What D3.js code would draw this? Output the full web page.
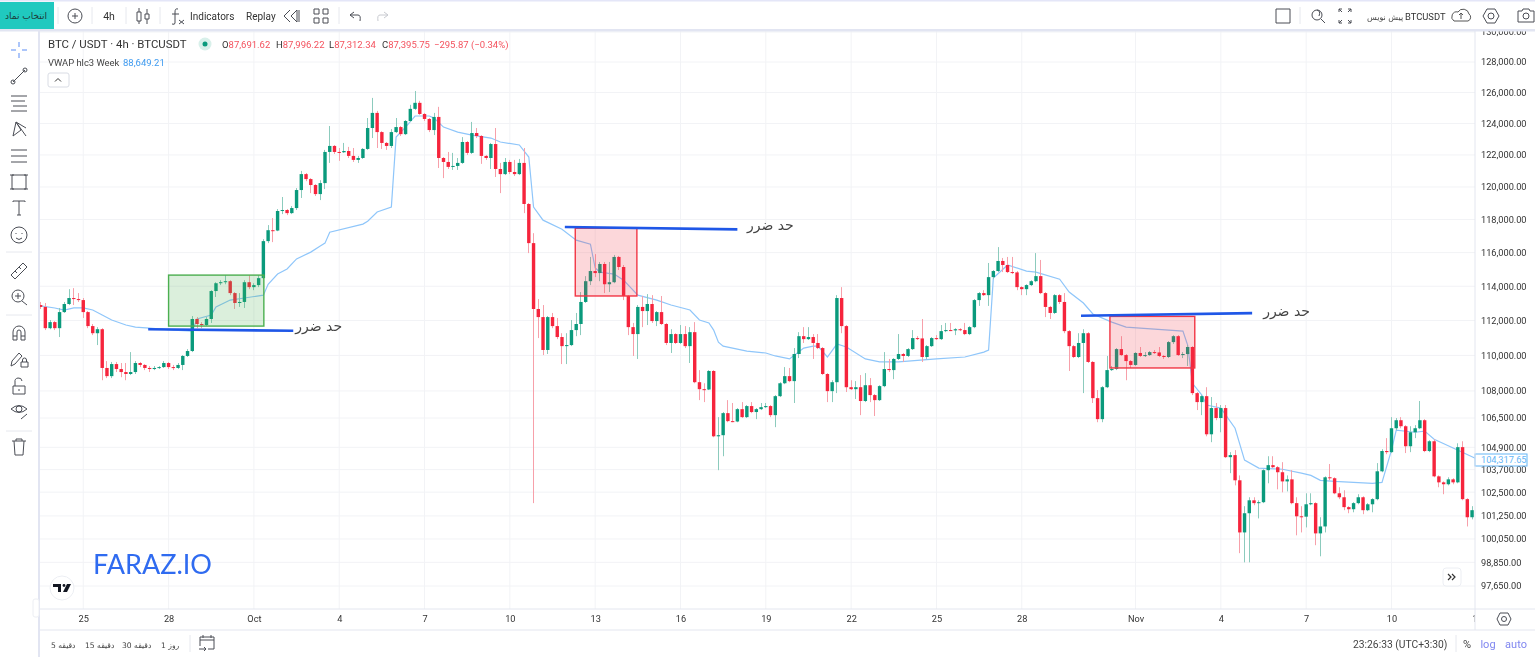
<!DOCTYPE html>
<html>
<head>
<meta charset="utf-8">
<style>
  html, body { margin: 0; padding: 0; background: #fff; overflow: hidden; }
  svg { display: block; filter: blur(0.4px); }
  text { font-family: Roboto, "DejaVu Sans", sans-serif; fill: #333; }
  .fa { font-family: "DejaVu Sans", sans-serif; }
  .axis path, .axis line { display: none; }
  .axis text { font-family: Roboto, sans-serif; font-size: 9.2px; fill: #333; }
</style>
</head>
<body>
<div id="chart"></div>
<script src="https://cdn.jsdelivr.net/npm/d3@7"></script>
<script>
// 4h candles, first one is Sep 23. Open of a candle = close of the one before
const firstOpen = 112900;
const closes = [
  112790,111560,111910,111560,112490,112960,113310,113250,113190,112490,111680,111270,111500,109290,108830,109510,109230,109060,108950,109060,
  109570,109460,109290,109230,109290,109340,109570,109340,109290,109460,109970,110250,112090,111800,111740,112090,113720,114180,114240,114300,
  113600,113020,113080,114240,113950,114070,114480,116690,117350,117330,118520,118580,118390,118700,119810,120800,120490,120120,119560,120240,
  122190,122570,122190,122170,122250,121940,121690,121810,122380,123710,124680,123450,122760,122570,123450,123770,123320,124160,124940,125330,
  124610,124290,123580,124420,121810,121560,121250,121310,121500,122820,122130,123390,123200,121940,121810,122690,121120,120800,121560,120930,
  120800,121500,118950,116570,112670,112200,110310,112200,111680,111050,110530,110590,111450,111800,113080,114300,114900,114780,115320,114120,
  114240,115740,115140,113430,111620,111220,112790,112550,112960,111970,112490,111800,110710,111220,110710,111220,110530,111330,108490,108100,
  108080,109120,105500,105560,106770,106330,106310,106990,106550,107160,106830,106990,107100,107160,106660,107710,108430,108830,108550,110080,
  111100,110930,111050,110710,110420,108950,107990,108490,113310,111680,108210,108100,108210,107440,108320,107770,107490,108270,109230,109170,
  109800,110080,109970,110360,110990,110970,109910,110530,110990,110930,111390,111450,111430,111500,111450,111220,111620,113190,113600,113480,
  114540,114900,115500,115260,114840,114820,113950,113830,114070,114300,114600,113600,112790,112440,113480,113080,111390,110530,109910,110710,
  111270,109630,107600,106440,108210,109170,109230,110360,110020,109680,109460,110140,109970,110020,110190,110170,109970,109910,110760,111100,
  110020,110080,110480,107880,107380,107710,105610,107050,106500,107050,104370,104480,103130,100390,101390,102070,101920,101970,103670,103940,
  103830,103560,103070,103180,101920,101230,101210,101860,101920,100340,100700,103290,103240,102440,102230,101710,101600,101920,102230,101550,
  101860,102130,103610,104700,104640,105940,106380,106050,104960,105720,105940,106380,104700,105230,103340,103020,102920,103180,103020,104910,
  102130,101180,101550,102020
];
const highs = [
  113080,113020,112030,111970,112730,113080,113830,113890,113600,113310,112550,111800,111620,111560,109680,109630,109630,109570,109570,110190,
  109680,109630,109510,109400,109400,109400,109680,109630,109460,109570,110020,110360,112260,112200,111910,112200,113770,114240,114360,114660,
  114360,113660,113600,114360,114660,114180,114660,116810,117660,118090,118640,119380,118640,118820,119930,121000,120870,120550,120180,120420,
  122320,123840,122630,122440,122760,122510,122440,121940,122440,124350,125650,124810,123510,122820,123640,124350,123840,124220,125200,126100,
  125460,124680,124350,124680,125070,121870,122190,122130,121810,123130,122880,124100,123710,123260,122000,122760,123710,121500,121810,121690,
  121690,121750,122440,119010,117170,113250,112900,112260,112440,112150,111270,111270,112030,112440,113660,114600,115740,115910,115440,115440,
  115440,115860,115800,115260,113480,111860,112900,113430,113540,113480,112550,113430,111860,111500,111270,111740,111680,111620,111910,109170,
  108430,109170,109170,106550,106830,107490,107330,107050,107380,107220,107380,107050,107330,107330,107220,107770,108490,109340,109290,110420,
  111330,111620,111620,111220,111220,110480,109000,108600,113480,113950,111740,108600,108550,108890,109000,108720,107830,108320,110190,109800,
  109850,111220,110140,110420,111450,111100,112090,110590,111050,111160,111740,111860,111860,111560,111560,111860,111680,113250,113660,113770,
  115380,114960,116330,115680,115740,115740,114900,114010,114120,114360,115970,115560,113660,112850,113540,113540,113600,111450,110590,111270,
  111500,111330,109680,108050,108270,109970,109400,110420,111100,110080,109740,110190,110480,110190,110250,110310,110480,110020,110820,111160,
  111160,110190,110590,110530,107940,107770,108210,107660,107330,107220,107220,104640,104750,103390,101760,102230,102230,102070,103720,104420,
  104420,103890,104100,103390,103670,102230,101760,102440,102440,101970,101180,103340,104000,103290,102760,102600,101760,101970,102390,102280,
  101920,102180,104050,104800,105400,106550,106500,106550,106110,106050,106110,107440,106440,105290,105340,103390,103070,103290,103240,105120,
  105230,102180,101760,102490
];
const lows = [
  112670,111450,111500,111450,111050,112440,112900,112900,113080,112150,111560,111160,110590,108600,108720,108720,109060,108770,108600,108890,
  108950,109340,109170,109060,109170,109230,109290,109230,109170,109230,109170,109910,110190,111560,111560,111680,111860,113370,114070,114120,
  113480,112670,112790,112730,113830,113770,113950,114420,116570,116630,117290,118330,118270,118330,118580,119320,120360,119620,119440,119190,
  119870,121500,122060,121630,122130,121810,121560,121500,121750,122320,123070,122440,122380,122320,122440,123390,123200,123260,124100,124870,
  124550,124160,123450,123260,121180,120550,121120,121060,121060,121440,122000,122060,123070,121440,121690,121120,120620,119620,120740,120800,
  120680,120740,118390,115970,101920,110990,110020,110080,111560,110930,109510,109510,110530,111100,111160,113020,114070,114540,114300,113600,
  113660,114180,114960,113190,111160,109970,109800,111620,111740,111860,111680,111740,110590,110140,110650,110650,110420,109570,108430,107490,
  107380,108050,105450,103670,104420,106270,106270,106270,106500,106500,106770,106440,106940,107050,106550,106000,107660,108380,108490,107330,
  109850,110710,110880,109800,110360,108890,107380,107380,107880,111270,107940,108050,107550,106660,107380,107380,106610,107440,108210,109060,
  108660,109740,109630,109910,110310,110880,109630,109800,110480,110880,110880,111330,111390,111160,111390,111160,111160,111560,112850,113430,
  112850,114420,114840,114840,114780,114720,113770,113480,113480,114010,114240,113540,112200,112090,112380,112960,111270,109120,109850,109850,
  107880,109570,107330,106270,106270,108160,109120,109170,109970,108600,109290,109400,109910,109910,109970,110080,109910,109800,109850,110650,
  109970,109850,109400,107770,106940,106660,105500,105180,106380,105720,104320,103510,102860,99320,98850,98850,101810,101120,101920,102970,
  103780,102650,102490,102540,101860,100240,100390,100650,101810,99730,99160,100390,103130,102390,102130,101550,101390,101440,101860,101340,
  101500,101440,102070,103560,104530,104590,105830,105940,104590,104640,105400,105890,104640,104640,103290,102760,102390,102860,102920,102970,
  102070,100700,101070,100860
];

// VWAP read at its corners: candle number and value
const vwapIndex = [0,3,5,7,9,11,13,15,18,20,23,28,32,33,36,37,40,43,47,48,50,52,54,57,59,60,61,68,69,71,74,75,77,79,82,83,85,88,91,95,97,101,103,104,106,110,113,116,117,118,121,123,126,130,133,137,139,141,142,143,144,149,153,155,158,161,163,164,166,168,170,174,177,181,189,195,199,200,201,204,208,210,215,217,220,222,226,229,235,241,242,243,245,246,249,252,254,257,262,266,268,270,273,281,283,285,286,290,292,294,298,303];
const vwapValues = [112850,112730,112610,112730,112730,112610,112320,112030,111740,111620,111560,111450,111390,112090,112320,112790,113190,113310,113480,114120,114720,115020,115620,116030,116400,116570,117230,117720,117900,118460,118760,123130,123770,124480,124480,124350,123770,123450,123260,123070,122820,122630,121870,118760,117960,117410,116750,116510,115080,114840,114720,114360,113480,113190,112900,112610,112030,111860,111450,110760,110530,110250,110140,109970,109800,110420,110530,110530,109910,110650,110480,109800,109630,109630,109800,109910,110190,110310,114480,115260,114900,114840,114420,113660,113020,112380,111910,111620,111500,111390,110590,108430,107770,107220,107050,105940,104210,103780,103720,103510,103390,103130,103070,102970,103020,104750,105830,105720,105780,105340,104860,104270];

const priceTicks = [130000,128000,126000,124000,122000,120000,118000,116000,114000,112000,110000,108000,106500,104900,103700,102500,101250,100050,98850,97650];
const dateIndex = [9,27,45,63,81,99,117,135,153,171,189,207,231,249,267,285,303];
const dateLabels = ["25","28","Oct","4","7","10","13","16","19","22","25","28","Nov","4","7","10","13"];

// drawn boxes: candle from/to, price top/bottom
const zoneFrom = [27,112.8,225.6], zoneTo = [47.1,125.8,243.5];
const zoneTop = [114660,117470,112240], zoneBottom = [111680,113430,109290];
const zoneColors = ["#4caf50","#f23645","#f23645"];
// stop loss lines
const stopFrom = [22.7,110.6,219.5], stopTo = [53.3,147,255.6];
const stopStart = [111500,117540,112280], stopEnd = [111410,117400,112430];
const stopLabel = "حد ضرر";
const stopLabelIndex = [63.6,158.9,267.8], stopLabelPrice = [111390,117350,112260];

const W = 1535, H = 657;
const chartRight = 1475, chartTop = 30, chartBottom = 609;

const svg = d3.select("#chart").append("svg").attr("width", W).attr("height", H);

const x = d3.scaleLinear().domain([0, 303]).range([40.6, 1476.8]);
const y = d3.scaleLog().domain([97650, 130000]).range([586, 32]);

svg.append("clipPath").attr("id", "plot").append("rect")
  .attr("x", 40).attr("y", chartTop).attr("width", chartRight - 40).attr("height", chartBottom - chartTop);
svg.append("clipPath").attr("id", "dates").append("rect")
  .attr("x", 40).attr("y", chartBottom).attr("width", chartRight - 40).attr("height", 20);

const plot = svg.append("g").attr("clip-path", "url(#plot)");

// grid
plot.selectAll(".hgrid").data(priceTicks).enter().append("line")
  .attr("x1", 40).attr("x2", chartRight)
  .attr("y1", d => y(d)).attr("y2", d => y(d))
  .attr("stroke", "#f2f3f6");
plot.selectAll(".vgrid").data(dateIndex).enter().append("line")
  .attr("x1", d => x(d)).attr("x2", d => x(d))
  .attr("y1", chartTop).attr("y2", chartBottom)
  .attr("stroke", "#f2f3f6");

// vwap goes under the candles
const vwapLine = d3.line().x((d, i) => x(d)).y((d, i) => y(vwapValues[i]));
plot.append("path").attr("d", vwapLine(vwapIndex))
  .attr("fill", "none").attr("stroke", "#8fc6fa").attr("stroke-width", 1.2);

const candles = closes.map((c, i) => ({
  i: i, open: i ? closes[i - 1] : firstOpen, close: c, high: highs[i], low: lows[i]
}));
const colorOf = d => d.close >= d.open ? "#0a9a7c" : "#f6243c";
const wickColor = d => d.close >= d.open ? "#8ccbbd" : "#f7a0aa";
// wicks sit on a whole pixel so they do not smear
const wickX = d => Math.floor(x(d.i)) + 0.5;

plot.selectAll(".wick").data(candles).enter().append("line")
  .attr("x1", wickX).attr("x2", wickX)
  .attr("y1", d => y(d.high)).attr("y2", d => y(d.low))
  .attr("stroke", wickColor);
plot.selectAll(".body").data(candles).enter().append("rect")
  .attr("x", d => x(d.i) - 1.7).attr("width", 3.4)
  .attr("y", d => y(Math.max(d.open, d.close)))
  .attr("height", d => Math.max(1, Math.abs(y(d.open) - y(d.close))))
  .attr("fill", colorOf);

// boxes
plot.selectAll(".zone").data(zoneFrom).enter().append("rect")
  .attr("x", d => x(d))
  .attr("y", (d, i) => y(zoneTop[i]))
  .attr("width", (d, i) => x(zoneTo[i]) - x(d))
  .attr("height", (d, i) => y(zoneBottom[i]) - y(zoneTop[i]))
  .attr("fill", (d, i) => zoneColors[i]).attr("fill-opacity", 0.2)
  .attr("stroke", (d, i) => zoneColors[i]).attr("stroke-width", 1.4);

// stop lines and their labels
plot.selectAll(".stop").data(stopFrom).enter().append("line")
  .attr("x1", d => x(d)).attr("x2", (d, i) => x(stopTo[i]))
  .attr("y1", (d, i) => y(stopStart[i])).attr("y2", (d, i) => y(stopEnd[i]))
  .attr("stroke", "#1f57e7").attr("stroke-width", 2.6);
plot.selectAll(".stopText").data(stopLabelIndex).enter().append("text")
  .attr("class", "fa")
  .attr("x", d => x(d))
  .attr("y", (d, i) => y(stopLabelPrice[i]))
  .attr("text-anchor", "end")
  .attr("font-size", 14)
  .style("fill", "#444")
  .text(stopLabel);

plot.append("text").attr("x", 93).attr("y", 574)
  .attr("font-size", 27).style("font-family", "Lato, sans-serif").attr("letter-spacing", 0)
  .style("fill", "#2f6bf0").text("FARAZ.IO");

// tradingview logo
const logo = svg.append("g").attr("transform", "translate(62,588)");
logo.append("circle").attr("r", 12).attr("fill", "#fff").attr("stroke", "#eceef3");
logo.append("path").attr("d", "M-9,-4H-1V4H-4V-1H-9Z M5,-4H9L5,4H1Z").attr("fill", "#131722");
logo.append("circle").attr("cx", 2).attr("cy", -2.5).attr("r", 1.4).attr("fill", "#131722");

// scroll button
const scrollBtn = svg.append("g").attr("transform", "translate(1452,577)");
scrollBtn.append("rect").attr("x", -9).attr("y", -9).attr("width", 18).attr("height", 18).attr("rx", 3)
  .attr("fill", "#fff").attr("stroke", "#eceef3");
scrollBtn.append("path").attr("d", "M-4,-3L-1,0L-4,3 M0,-3L3,0L0,3").attr("fill", "none").attr("stroke", "#333").attr("stroke-width", 1.2);

// axes
svg.append("g").attr("class", "axis").attr("transform", `translate(${chartRight},0)`)
  .call(d3.axisRight(y).tickValues(priceTicks).tickSize(0).tickPadding(6).tickFormat(d3.format(",.2f")));

const dateAxis = d3.axisBottom(x).tickValues(dateIndex).tickSize(0).tickPadding(6)
  .tickFormat((d, i) => dateLabels[i]);
svg.append("g").attr("clip-path", "url(#dates)").append("g").attr("class", "axis")
  .attr("transform", `translate(0,${chartBottom})`).call(dateAxis);

// last vwap value on the scale
const lastVwap = svg.append("g");
lastVwap.append("rect").attr("x", 1475).attr("y", 454).attr("width", 52).attr("height", 12)
  .attr("fill", "#fff").attr("stroke", "#64b5f6");
lastVwap.append("text").attr("x", 1481).attr("y", 463.3).attr("font-size", 9.2)
  .style("fill", "#64b5f6").text("104,317.65");

// frame lines
const frame = "#e3e6ef";
const frameLines = [[40,chartBottom,W,chartBottom],[40,630,W,630],[chartRight,chartTop,chartRight,630]];
svg.selectAll(".frame").data(frameLines).enter().append("line")
  .attr("x1", d => d[0]).attr("y1", d => d[1]).attr("x2", d => d[2]).attr("y2", d => d[3])
  .attr("stroke", frame);

// top bar
svg.append("rect").attr("width", W).attr("height", chartTop).attr("fill", "#fff");
svg.append("rect").attr("y", 29).attr("width", W).attr("height", 2.5).attr("fill", "#e2e5f2");
svg.append("rect").attr("width", W).attr("height", 1.5).attr("fill", "#e4e6f8");
svg.append("rect").attr("y", 2).attr("width", 54).attr("height", 27).attr("fill", "#20c9bf");
svg.append("text").attr("class", "fa").attr("x", 26).attr("y", 19).attr("text-anchor", "middle")
  .attr("font-size", 9).style("fill", "#1d3b39").text("انتخاب نماد");

// left bar
svg.append("rect").attr("x", 38).attr("y", 30).attr("width", 2).attr("height", H - 30).attr("fill", "#e2e5f2");

const seps = [[58,7,58,24],[92,7,92,24],[126,7,126,24],[160,7,160,24],[339,7,339,24],[1300,7,1300,24],
  [6,252,32,252],[6,315,32,315],[6,431,32,431],[190,635,190,652],[1456,635,1456,652]];
svg.selectAll(".sep").data(seps).enter().append("line")
  .attr("x1", d => d[0]).attr("y1", d => d[1]).attr("x2", d => d[2]).attr("y2", d => d[3])
  .attr("stroke", "#e6e8ee");

// toolbar icons, paths drawn around 0,0
const icons = [
  [19,50,"M-8,0H-3M3,0H8M0,-8V-3M0,3V8","#5a8df5"],
  [19,76,"M-6,6L6,-6M-8,6a2,2 0 1 0 4,0a2,2 0 1 0 -4,0M4,-6a2,2 0 1 0 4,0a2,2 0 1 0 -4,0"],
  [19,103,"M-8,-7H8M-8,-2H6M-6,3H8M-8,8H8"],
  [19,129,"M-6,7L-3,-7L7,7M-3,-7L2,1L-6,7M-3,-7L7,-1"],
  [19,156,"M-8,-6H8M-8,0H8M-8,6H8"],
  [19,182,"M-7,-7H7V7H-7ZM-9,-7h4M5,-7h4M-9,7h4M5,7h4"],
  [19,208,"M-6,-6V-7H6V-6M0,-7V7M-2,7H2"],
  [19,235,"M-8,0a8,8 0 1 0 16,0a8,8 0 1 0 -16,0M-3,3Q0,6 3,3M-3,-2V-1M3,-2V-1"],
  [19,271,"M-8,4L4,-8L8,-4L-4,8ZM-4,0L-2,2M0,-4L2,-2"],
  [19,297,"M-7,-1a6,6 0 1 0 12,0a6,6 0 1 0 -12,0M3,4L8,8M-4,-1H2M-1,-4V2"],
  [19,333,"M-6,7V-1a6,6 0 0 1 12,0V7H2V-1a2,2 0 0 0 -4,0V7ZM-6,3H-2M2,3H6"],
  [19,359,"M-8,7L-7,2L0,-6L3,-3L-4,5ZM2,3H9V8H2ZM3.5,3V1a2,2 0 0 1 4,0V3"],
  [19,386,"M-6,0H6V8H-6ZM-4,0V-4a3.5,3.5 0 0 1 7,-1M0,3V5"],
  [19,411,"M-8,-2Q0,-9 8,-2Q0,5 -8,-2ZM-3,-2a3,3 0 1 0 6,0a3,3 0 1 0 -6,0M2,8L8,3"],
  [19,447,"M-7,-6H7M-3,-6V-8H3V-6M-5,-6L-4,8H4L5,-6"],
  [75,16,"M-7,0a7,7 0 1 0 14,0a7,7 0 1 0 -14,0M-3,0H3M0,-3V3"],
  [143,16,"M-6,-4H-2V5H-6ZM-4,-4V-8M-4,5V8M2,-2H6V3H2ZM4,-2V-7M4,3V8"],
  [177,16,"M1,-7Q-2,-8 -2,-4V7Q-2,9 -5,8M-5,-2H2M2,4L7,8M7,4L2,8"],
  [291,16,"M-1,-6L-7,0L-1,6M6,-6L0,0L6,6ZM8,-6V6"],
  [321,16,"M-7,-7H-2V-2H-7ZM2,-7H7V-2H2ZM-7,2H-2V7H-7ZM2,2H7V7H2Z"],
  [355,16,"M-5,-1H3Q6,-1 5,5M-5,-1L-1,-4M-5,-1L-1,2"],
  [383,16,"M5,-1H-3Q-6,-1 -5,5M5,-1L1,-4M5,-1L1,2","#c8cad0"],
  [1283,16,"M-7,-7H7V7H-7Z"],
  [1318,16,"M-6,-1a5,5 0 1 0 10,0a5,5 0 1 0 -10,0M3,3L7,7M-1,-6Q3,-5 1,0"],
  [1345,16,"M-6,-7L-3,-4M-6,-7V-4M-6,-7H-3M6,-7L3,-4M6,-7V-4M6,-7H3M-6,7L-3,4M-6,7V4M-6,7H-3M6,7L3,4M6,7V4M6,7H3"],
  [1461,16,"M-7,5H7a4,4 0 0 0 1,-7a6,6 0 0 0 -11,-2a5,5 0 0 0 -4,9ZM0,3V-3M-2,-1L0,-3L2,-1","#555"],
  [1491,16,"M-8,0L-4,-7H4L8,0L4,7H-4ZM-3,0a3,3 0 1 0 6,0a3,3 0 1 0 -6,0"],
  [1526,16,"M-8,-5H-4L-3,-7H3L4,-5H8V6H-8ZM-3,0a3,3 0 1 0 6,0a3,3 0 1 0 -6,0"],
  [207,643,"M-7,3V-6H7V6H1M-7,-3H7M-4,-8V-5M4,-8V-5M-8,6H-1M-3,4L-1,6L-3,8"],
  [1504,619,"M-7,0L-4,-6H4L7,0L4,6H-4ZM-2.5,0a2.5,2.5 0 1 0 5,0a2.5,2.5 0 1 0 -5,0"],
  [58,80,"M-3,1.5L0,-1.5L3,1.5","#333"]
];
svg.selectAll(".icon").data(icons).enter().append("path")
  .attr("transform", d => `translate(${d[0]},${d[1]})`)
  .attr("d", d => d[2])
  .attr("fill", "none")
  .attr("stroke", d => d[3] || "#4a4d55");

// collapse buttons
svg.append("rect").attr("x", 48).attr("y", 73).attr("width", 21).attr("height", 14).attr("rx", 2)
  .attr("fill", "none").attr("stroke", "#d9dce4");
svg.append("rect").attr("x", 33).attr("y", 599).attr("width", 6).attr("height", 18).attr("rx", 2)
  .attr("fill", "#fff").attr("stroke", "#eceef3");

// toolbar text
const barText = [
  ["4h",109,20,10.5,"#333","middle"],
  ["Indicators",190,20,10,"#333","start"],
  ["Replay",246,20,10,"#333","start"],
  ["BTCUSDT",1405,20,9.4,"#333","start"],
  ["23:26:33 (UTC+3:30)",1353,648,10.3,"#444","start"],
  ["%",1467,648,11,"#444","middle"],
  ["log",1488,648,11,"#8087f0","middle"],
  ["auto",1516,648,11,"#8087f0","middle"]
];
svg.selectAll(".bar").data(barText).enter().append("text")
  .attr("x", d => d[1]).attr("y", d => d[2])
  .attr("font-size", d => d[3]).attr("text-anchor", d => d[5])
  .style("fill", d => d[4]).text(d => d[0]);
svg.append("text").attr("class", "fa").attr("x", 1367).attr("y", 20).attr("font-size", 8).style("fill", "#444").text("پیش نویس");

const intervals = ["5 دقیقه","15 دقیقه","30 دقیقه","1 روز"];
const intervalX = [51,85,122,161];
svg.selectAll(".interval").data(intervals).enter().append("text")
  .attr("class", "fa")
  .attr("x", (d, i) => intervalX[i]).attr("y", 648)
  .attr("font-size", 7.6).style("fill", "#444").text(d => d);

// legend
svg.append("text").attr("x", 48).attr("y", 48).attr("font-size", 11.4).text("BTC / USDT · 4h · BTCUSDT");
svg.append("circle").attr("cx", 205).attr("cy", 44).attr("r", 6.5).attr("fill", "#d8f0ea");
svg.append("circle").attr("cx", 205).attr("cy", 44).attr("r", 2.5).attr("fill", "#0a9a7c");

const ohlcKeys = ["O","H","L","C"];
const ohlcVals = ["87,691.62","87,996.22","87,312.34","87,395.75"];
const ohlcX = [222,276,329,382];
const legendRed = "#f4525e";
const ohlc = svg.selectAll(".ohlc").data(ohlcKeys).enter().append("text")
  .attr("x", (d, i) => ohlcX[i]).attr("y", 47.5).attr("font-size", 9.5);
ohlc.append("tspan").style("fill", "#333").text(d => d);
ohlc.append("tspan").style("fill", legendRed).text((d, i) => ohlcVals[i]);
svg.append("text").attr("x", 434).attr("y", 47.5).attr("font-size", 9.5).style("fill", legendRed).text("−295.87 (−0.34%)");

svg.append("text").attr("x", 48).attr("y", 65.5).attr("font-size", 9.4).style("fill", "#444").text("VWAP hlc3 Week");
svg.append("text").attr("x", 123).attr("y", 65.5).attr("font-size", 9.5).style("fill", "#3f9bf0").text("88,649.21");
</script>
</body>
</html>
